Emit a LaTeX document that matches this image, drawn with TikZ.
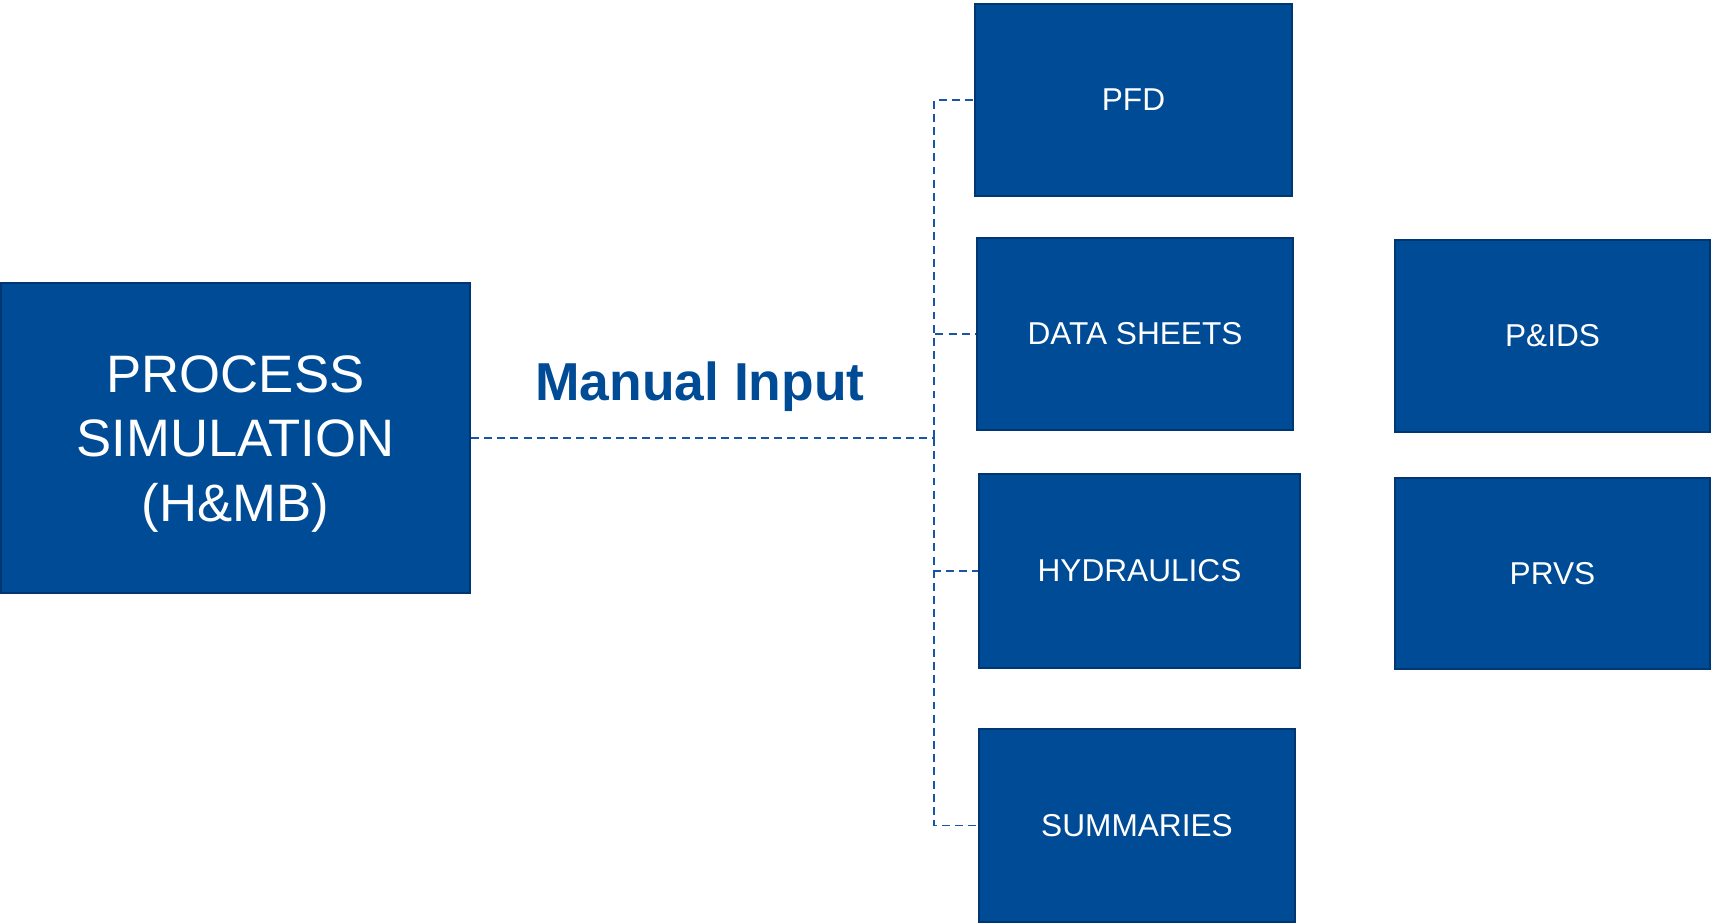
\documentclass[tikz,border=0pt]{standalone}
\usepackage{fontspec}
\setmainfont{Liberation Sans}
\usepackage{xcolor}
\usepackage{tikz}
\usetikzlibrary{positioning,calc}
\definecolor{blkfill}{RGB}{0,75,150}
\definecolor{blkedge}{RGB}{0,55,115}
\definecolor{feedc}{RGB}{25,85,165}

\begin{document}
\begin{tikzpicture}[x=0.02cm,y=-0.02cm,
  blk/.style={draw=blkedge,fill=blkfill,line width=1.1pt,text=white,inner sep=0pt,
    align=center,font=\fontsize{18}{22}\selectfont},
  feed/.style={feedc,line width=1.1pt,dash pattern=on 4.5pt off 3pt}]
  \useasboundingbox (0,0) rectangle (1711,923);
  % source block
  \node[blk,minimum width=9.38cm,minimum height=6.2cm,font=\fontsize{30}{36.6}\selectfont]
    (proc) at (235.5,438) {};
  \node[text=white,align=center,font=\fontsize{30}{36.6}\selectfont] (proctxt) at (235.5,444)
    {PROCESS\\SIMULATION\\(H\&MB)};
  % deliverables, first column
  \node[blk,minimum width=6.34cm,minimum height=3.84cm] (pfd) at (1133.5,100) {PFD};
  \node[blk,minimum width=6.32cm,minimum height=3.84cm] (data) at (1135,334) {DATA SHEETS};
  \node[blk,minimum width=6.42cm,minimum height=3.88cm] (hyd) at (1139.5,571) {HYDRAULICS};
  \node[blk,minimum width=6.32cm,minimum height=3.86cm] (summ) at (1137,825.5) {SUMMARIES};
  % second column
  \node[blk,minimum width=6.3cm,minimum height=3.84cm] (pid) at (1552.5,336) {P\&IDS};
  \node[blk,minimum width=6.3cm,minimum height=3.82cm] (prvs) at (1552.5,573.5) {PRVS};
  % label over the feed line
  \node[text=blkfill,font=\fontsize{30.4}{36}\selectfont\bfseries] (manual) at (700,387) {Manual Input};
  % dashed feed: trunk, then a branch to each block
  \coordinate (spine) at (934,438);
  \draw[feed] (proc.east) -- (spine);
  \foreach \dst in {pfd,data,hyd,summ} {
    \draw[feed] (spine) |- (\dst.west);
  }
\end{tikzpicture}
\end{document}
